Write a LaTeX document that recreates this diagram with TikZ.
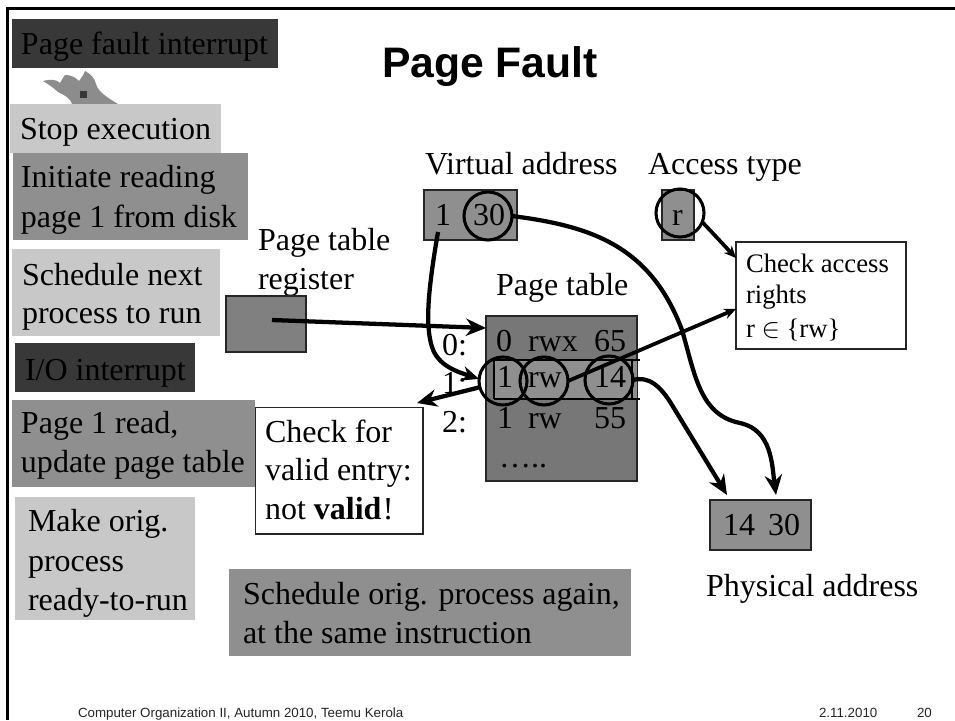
\documentclass[tikz,border=0pt]{standalone}
\usepackage{fontspec}
\setmainfont{Liberation Serif}
\newfontfamily\arialf{Liberation Sans}
\usetikzlibrary{arrows.meta}
\definecolor{darkbox}{HTML}{383838}
\definecolor{midbox}{HTML}{8F8F8F}
\definecolor{lightbox}{HTML}{C8C8C8}
\definecolor{regbox}{HTML}{808080}
\definecolor{tablebox}{HTML}{777777}
\definecolor{flame}{HTML}{8C8C8C}
\tikzset{
  plainbox/.style={rectangle,inner sep=0,outer sep=0,draw=none},
  outlined/.style={plainbox,draw=black!85,line width=1.1pt},
  lab/.style={anchor=base west,inner sep=0,outer sep=0,font=\fontsize{24}{28}\selectfont},
  smalllab/.style={lab,font=\fontsize{20}{24}\selectfont},
  foot/.style={lab,font=\arialf\fontsize{10}{12}\selectfont,text=black!85},
  ring/.style={circle,draw=black,line width=2.3pt,minimum size=36pt,inner sep=0,outer sep=0},
  conn/.style={draw=black,line width=3.2pt,-{Stealth[length=15pt,width=13pt]}},
  thinconn/.style={draw=black,line width=2.8pt,-{Stealth[length=9pt,width=8pt]}},
  rule/.style={draw=black,line width=1.2pt}
}
% \bx{name}{x1}{y1}{x2}{y2}{style}
\newcommand\bx[6]{%
  \pgfmathsetmacro\bxw{(#4-#2)*0.75}\pgfmathsetmacro\bxh{(#5-#3)*0.75}%
  \pgfmathsetmacro\bxx{(#2+#4)/2}\pgfmathsetmacro\bxy{(#3+#5)/2}%
  \node[#6,minimum width=\bxw pt,minimum height=\bxh pt] (#1) at (\bxx,\bxy) {};}
\newcommand\tx[5][lab]{\node[#1] (#2) at (#3,#4) {#5};}
\begin{document}
\begin{tikzpicture}[x=0.75pt,y=-0.75pt]
\useasboundingbox (0,0) rectangle (955,720);
\fill[white] (0,0) rectangle (955,720);
% slide frame
\draw[black,line width=2.4pt] (7.5,720) -- (7.5,8.5) -- (955,8.5);
% flame logo
\fill[flame] (43,81) .. controls (50,79) and (56,79) .. (60,83)
  .. controls (62,79) and (64,77) .. (65,75)
  .. controls (71,75) and (75,77) .. (79,81)
  .. controls (82,77) and (84,74) .. (85,71)
  .. controls (91,74) and (95,79) .. (96,84)
  .. controls (98,92) and (108,98) .. (118,104)
  -- (72,104) .. controls (70,98) and (66,96) .. (58,92)
  .. controls (54,88) and (48,84) .. (43,81) -- cycle;
\fill[darkbox] (80,91) rectangle (87,98);
% left column
\bx{bpf}{12}{19}{278}{68}{plainbox,fill=darkbox}
\tx{tpf}{21}{55}{Page fault interrupt}
\bx{bstop}{10}{104}{221}{153}{plainbox,fill=lightbox}
\tx{tstop}{20}{140}{Stop execution}
\bx{binit}{13}{153}{248}{240}{plainbox,fill=midbox}
\tx{tinitA}{21}{188}{Initiate reading}
\tx{tinitB}{21}{227}{page 1 from disk}
\bx{bsch}{12}{249}{220}{336}{plainbox,fill=lightbox}
\tx{tschA}{22}{285}{Schedule next}
\tx{tschB}{22}{323}{process to run}
\bx{bio}{15}{343}{195}{392}{plainbox,fill=darkbox}
\tx{tio}{25}{380}{I/O interrupt}
\bx{bread}{12}{400}{255}{487}{plainbox,fill=midbox}
\tx{treadA}{21}{433}{Page 1 read,}
\tx{treadB}{21}{472}{update page table}
\bx{bmake}{15}{497}{195}{620}{plainbox,fill=lightbox}
\tx{tmakeA}{28}{531}{Make orig.}
\tx{tmakeB}{28}{571}{process}
\tx{tmakeC}{28}{610}{ready-to-run}
\bx{bagain}{229}{569}{631}{656}{plainbox,fill=midbox}
\tx{tagainA}{243}{604}{Schedule orig. process again,}
\tx{tagainB}{243}{643}{at the same instruction}
% title
\node[lab,font=\arialf\bfseries\fontsize{32}{38}\selectfont] (title) at (382,78) {Page Fault};
% labels
\tx{tva}{425}{175}{Virtual address}
\tx{tat}{648}{175}{Access type}
\tx{tptrA}{258}{250}{Page table}
\tx{tptrB}{258}{289}{register}
\tx{tpt}{496}{295}{Page table}
% register
\bx{reg}{226}{296}{306}{352}{outlined,fill=regbox}
% virtual address
\bx{va}{424}{190}{517}{240}{outlined,line width=0.8pt,fill=midbox}
\tx{tvaA}{435}{225}{1}
\tx{tvaB}{473}{225}{30}
% access
\bx{acc}{662}{190}{694}{240}{outlined,line width=0.8pt,fill=midbox}
\tx{tacc}{672}{225}{r}
% page table
\bx{pt}{486}{316}{637}{481}{outlined,line width=0.8pt,fill=tablebox}
\bx{row}{494}{360}{637}{399}{plainbox,fill=midbox}
\draw[rule] (row.north west) -- ++(146,0);
\draw[rule] (row.south west) -- ++(146,0);
\draw[rule] (row.north west) -- (row.south west);
\coordinate (rowBarT) at (632,360);
\coordinate (rowBarB) at (632,399);
\draw[rule] (rowBarT) -- (rowBarB);
\tx{rA}{496}{351}{0}\tx{rB}{528}{351}{rwx}\tx{rC}{594}{351}{65}
\tx{sA}{497}{387}{1}\tx{sB}{528}{387}{rw}\tx{sC}{594}{387}{14}
\tx{uA}{497}{428}{1}\tx{uB}{528}{428}{rw}\tx{uC}{594}{428}{55}
\tx{dots}{499}{467}{…..}
\tx{idxA}{442}{355}{0:}
\tx{idxB}{442}{393}{1:}
\tx{idxC}{442}{432}{2:}
% boxes
\bx{valid}{255.5}{407.5}{423}{534}{outlined,fill=white}
\tx{tvalidA}{265}{442}{Check for}
\tx{tvalidB}{265}{480}{valid entry:}
\tx{tvalidC}{265}{519}{not \textbf{valid}\hspace{1pt}!}
\bx{chk}{736}{242}{906}{349}{outlined,fill=white}
\tx[smalllab]{tchkA}{746}{272}{Check access}
\tx[smalllab]{tchkB}{746}{303}{rights}
\tx[smalllab]{tchkC}{746}{337}{r $\in$ \{rw\}}
\bx{pa}{710}{500}{811}{550}{outlined,line width=0.8pt,fill=midbox}
\tx{tpaA}{723}{535}{14}
\tx{tpaB}{768}{535}{30}
\tx{tpa}{706}{596}{Physical address}
% rings
\node[ring] (c30) at (488,216) {};
\node[ring] (cr) at (680,213) {};
\node[ring] (c1) at (503,381) {};
\node[ring] (crw) at (544,381) {};
\node[ring] (c14) at (609,380) {};
% connector ends
\coordinate (regO) at (272,320);
\coordinate (ptIn) at (486,328);
\coordinate (vaO) at (438,232);
\coordinate (validIn) at (417,403);
\coordinate (chkA) at (736,258);
\coordinate (chkB) at (736,309);
\coordinate (paA) at (727,495);
\coordinate (paB) at (776,495);
% connectors
\draw[conn] (regO) -- (ptIn);
\draw[conn,-{Stealth[length=13pt,width=11pt]}] (vaO) .. controls (428,290) and (425,325) .. (432,347) .. controls (438,366) and (458,372) .. (c1.175);
\draw[conn] (c1.195) -- (validIn);
\draw[thinconn] (crw.east) -- (chkB);
\draw[thinconn] (cr.-22) -- (chkA);
\draw[conn] (c30.east) .. controls (590,226) and (650,245) .. (682,330)
  .. controls (695,375) and (700,415) .. (740,423)
  .. controls (772,430) and (772,465) .. (paB);
\draw[conn] (c14.east) .. controls (648,376) and (660,385) .. (672,405) -- (paA);
% footer
\tx[foot]{fa}{78}{717}{Computer Organization II, Autumn 2010, Teemu Kerola}
\tx[foot]{fb}{819}{717}{2.11.2010}
\tx[foot]{fc}{917}{717}{20}
\end{tikzpicture}
\end{document}
